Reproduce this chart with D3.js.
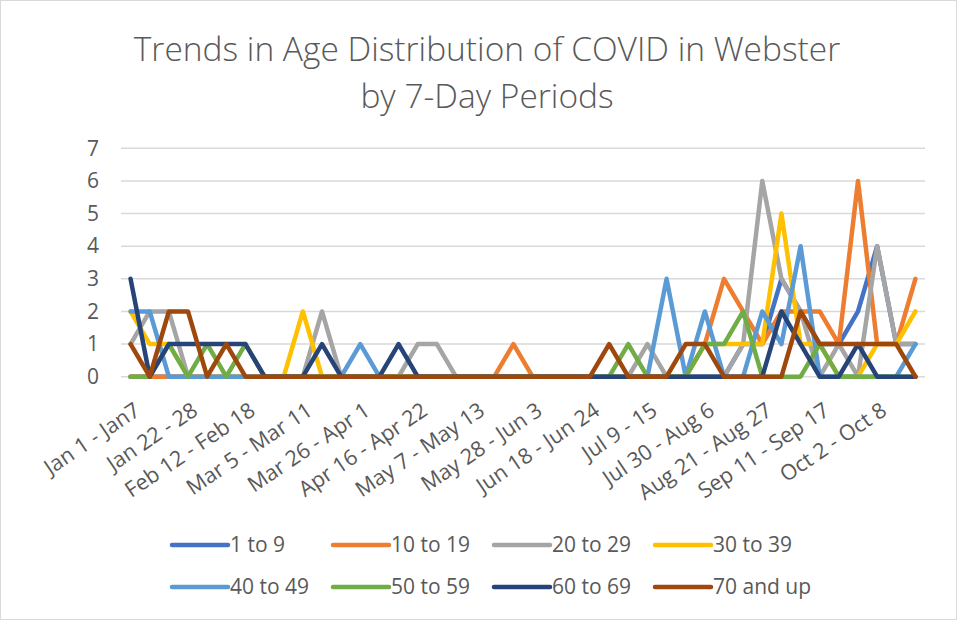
<!DOCTYPE html>
<html><head><meta charset="utf-8">
<script src="https://cdn.jsdelivr.net/npm/d3@7/dist/d3.min.js"></script>
<style>
body{margin:0;background:#fff}
svg{display:block}
text{font-family:"Open Sans","Noto Sans",sans-serif;fill:#595959}
</style></head>
<body><svg id="chart" width="957" height="620"></svg>
<script>
const categories = ["Jan 1 - Jan7","Jan 8 - 14","Jan 15 - 21","Jan 22 - 28","Jan 29 - Feb 4","Feb 5 - 11",
"Feb 12 - Feb 18","Feb 19 - 25","Feb 26 - Mar 4","Mar 5 - Mar 11","Mar 12 - 18","Mar 19 - 25",
"Mar 26 - Apr 1","Apr 2 - 8","Apr 9 - 15","Apr 16 - Apr 22","Apr 23 - 29","Apr 30 - May 6",
"May 7 - May 13","May 14 - 20","May 21 - 27","May 28 - Jun 3","Jun 4 - 10","Jun 11 - 17",
"Jun 18 - Jun 24","Jun 25 - Jul 1","Jul 2 - 8","Jul 9 - 15","Jul 16 - 22","Jul 23 - 29",
"Jul 30 - Aug 6","Aug 7 - 13","Aug 14 - 20","Aug 21 - Aug 27","Aug 28 - Sep 3","Sep 4 - 10",
"Sep 11 - Sep 17","Sep 18 - 24","Sep 25 - Oct 1","Oct 2 - Oct 8","Oct 9 - 15","Oct 16 - 22"];
const tickLabels = ["Jan 1 - Jan7","Jan 22 - 28","Feb 12 - Feb 18","Mar 5 - Mar 11","Mar 26 - Apr 1",
"Apr 16 - Apr 22","May 7 - May 13","May 28 - Jun 3","Jun 18 - Jun 24","Jul 9 - 15","Jul 30 - Aug 6",
"Aug 21 - Aug 27","Sep 11 - Sep 17","Oct 2 - Oct 8"];
const yTicks = [0,1,2,3,4,5,6,7];
const seriesNames = ["1 to 9","10 to 19","20 to 29","30 to 39","40 to 49","50 to 59","60 to 69","70 and up"];
const seriesColors = ["#4472C4","#ED7D31","#A5A5A5","#FFC000","#5B9BD5","#70AD47","#264478","#9E480E"];
//                 0 1 2 3 4 5 6 7 8 9 0 1 2 3 4 5 6 7 8 9 0 1 2 3 4 5 6 7 8 9 0 1 2 3 4 5 6 7 8 9 0 1
const age1to9   = [0,0,0,0,0,0,0,0,0,0,0,0,0,0,0,0,0,0,0,0,0,0,0,0,0,0,0,0,0,0,0,0,1,1,3,2,1,1,2,4,1,1];
const age10to19 = [0,0,0,0,0,0,0,0,0,0,0,0,0,0,0,0,0,0,0,0,1,0,0,0,0,0,0,0,0,0,1,3,2,1,2,2,2,1,6,1,1,3];
const age20to29 = [1,2,2,0,0,0,0,0,0,0,2,0,0,0,0,1,1,0,0,0,0,0,0,0,0,0,0,1,0,0,0,0,1,6,3,2,0,1,0,4,1,1];
const age30to39 = [2,1,1,0,0,0,0,0,0,2,0,0,0,0,0,0,0,0,0,0,0,0,0,0,0,0,0,0,0,0,1,1,1,1,5,1,1,0,0,1,1,2];
const age40to49 = [2,2,0,0,0,0,0,0,0,0,0,0,1,0,0,0,0,0,0,0,0,0,0,0,0,0,0,0,3,0,2,0,0,2,1,4,0,0,0,0,0,1];
const age50to59 = [0,0,1,0,1,0,1,0,0,0,0,0,0,0,0,0,0,0,0,0,0,0,0,0,0,0,1,0,0,0,1,1,2,0,0,0,1,0,0,0,0,0];
const age60to69 = [3,0,1,1,1,1,1,0,0,0,1,0,0,0,1,0,0,0,0,0,0,0,0,0,0,0,0,0,0,0,0,0,0,0,2,1,0,0,1,0,0,0];
const age70up   = [1,0,2,2,0,1,0,0,0,0,0,0,0,0,0,0,0,0,0,0,0,0,0,0,0,1,0,0,0,1,1,0,0,0,0,2,1,1,1,1,1,0];
const seriesValues = [age1to9,age10to19,age20to29,age30to39,age40to49,age50to59,age60to69,age70up];

const svg = d3.select("#chart");
svg.append("rect").attr("x",0.5).attr("y",0.5).attr("width",956).attr("height",619)
  .attr("fill","#fff").attr("stroke","#d9d9d9").attr("stroke-width",1);

const x = d3.scalePoint().domain(categories).range([121,925]).padding(0.5);
const y = d3.scaleLinear().domain([0,7]).range([376.7,148.3]);

// title
const title = svg.append("text").attr("x",487).attr("text-anchor","middle")
  .style("font-size","33.5px").style("font-weight","300");
title.append("tspan").attr("x",487).attr("y",61).text("Trends in Age Distribution of COVID in Webster");
title.append("tspan").attr("x",487).attr("y",108).text("by 7-Day Periods");

// gridlines
svg.append("g").selectAll("line").data(yTicks).join("line")
  .attr("x1",121).attr("x2",925).attr("y1",d=>y(d)).attr("y2",d=>y(d))
  .attr("stroke","#d9d9d9").attr("stroke-width",1.5);

// y axis labels
const yAxis = d3.axisLeft(y).tickValues(yTicks).tickFormat(d3.format("d")).tickSize(0).tickPadding(0);
const yg = svg.append("g").attr("transform","translate(99,0)").call(yAxis);
yg.select(".domain").remove();
yg.selectAll("text").style("font-size","21px").style("font-family","\"Open Sans\",sans-serif").attr("fill","#595959");

// x axis labels
const xAxis = d3.axisBottom(x).tickValues(categories.filter(c=>tickLabels.includes(c))).tickSize(0).tickPadding(0);
const xg = svg.append("g").attr("transform","translate(0,377)").call(xAxis);
xg.select(".domain").remove();
xg.selectAll("text").style("font-size","21.5px").style("font-family","\"Open Sans\",sans-serif").attr("fill","#595959")
  .attr("text-anchor","end").attr("dy","0.72em")
  .attr("transform","translate(2,24) rotate(-34)").attr("y",0).attr("x",0);

// lines
const line = d3.line().x((d,i)=>x(categories[i])).y(d=>y(d));
svg.append("g").selectAll("path").data(seriesValues).join("path")
  .attr("d",d=>line(d)).attr("fill","none")
  .attr("stroke",(d,i)=>seriesColors[i]).attr("stroke-width",4.5)
  .attr("stroke-linejoin","round").attr("stroke-linecap","round");

// legend
const legend = svg.append("g");
const lg = legend.selectAll("g").data(seriesNames).join("g")
  .attr("transform",(d,i)=>`translate(${172 + (i%4)*161},${i<4?545:587})`);
lg.append("line").attr("x1",0).attr("x2",56).attr("y1",0).attr("y2",0)
  .attr("stroke",(d,i)=>seriesColors[i]).attr("stroke-width",4.5).attr("stroke-linecap","round");
lg.append("text").attr("x",58).attr("y",0).attr("dy","0.35em").style("font-size","21px").text(d=>d);
</script></body></html>
